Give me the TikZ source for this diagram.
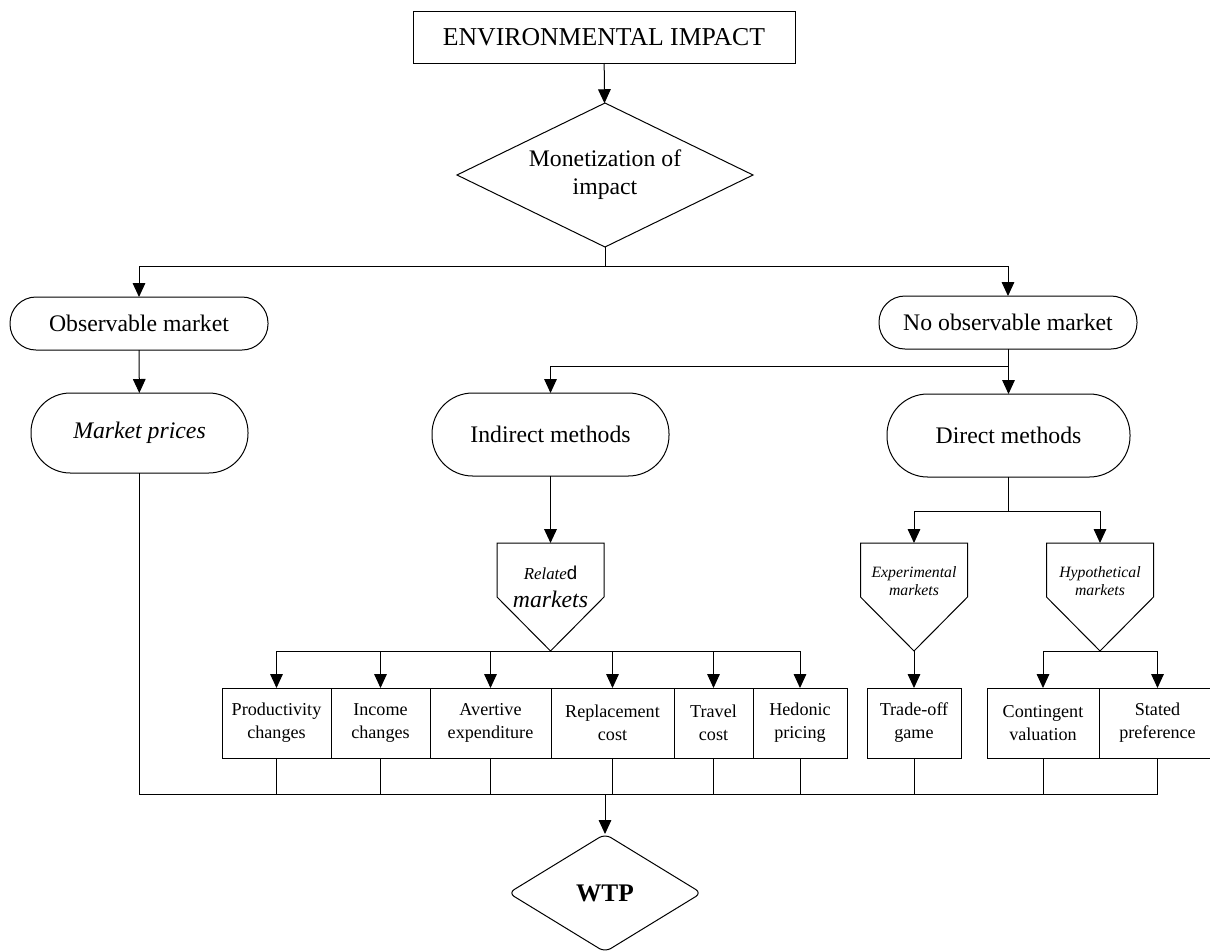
\documentclass[tikz,border=0pt]{standalone}
\usepackage{fontspec}
\setmainfont{Liberation Serif}
\setsansfont{Liberation Sans}
\usetikzlibrary{shapes.geometric,arrows.meta}

\tikzset{every picture/.style={line width=0.75pt}}
\tikzset{
  base/.style={draw, inner sep=0pt, outer sep=0pt, align=center, font=\fontsize{17.8}{21}\selectfont},
  topbox/.style={base, rectangle, minimum width=286.5pt, minimum height=39pt, font=\fontsize{19.3}{23}\selectfont},
  choice/.style={base, diamond, aspect=2},
  term/.style={base, rectangle},
  method/.style={base, rectangle, minimum height=52.5pt, font=\fontsize{13.6}{17.2}\selectfont},
  pent/.style={rectangle, inner sep=0pt, outer sep=0pt, align=center, minimum width=80.25pt, anchor=north, font=\fontsize{11.8}{13.5}\selectfont\itshape},
  arr/.style={-{Triangle[width=9.5pt,length=10.5pt]}},
}

\begin{document}
\begin{tikzpicture}[x=0.75pt,y=0.75pt,yscale=-1,xscale=1]
\useasboundingbox (0,0) rectangle (1210,950);

%Top
\node[topbox] (env) at (604,37) {ENVIRONMENTAL IMPACT};
\node[choice, minimum width=222pt, minimum height=108pt] (mon) at (605,175) {Monetization of\\impact};

%Markets
\node[term, minimum width=193.5pt, minimum height=39.75pt, rounded corners=19.5pt] (obs) at (139,323.5) {Observable market};
\node[term, minimum width=193.5pt, minimum height=39.75pt, rounded corners=19.5pt] (nobs) at (1008,322.5) {No observable market};
\node[term, minimum width=162.75pt, minimum height=60pt, rounded corners=29.5pt, font=\fontsize{17.8}{21}\selectfont\itshape] (mp) at (139.5,433) {Market prices};
\node[term, minimum width=177.75pt, minimum height=62.25pt, rounded corners=30.5pt] (ind) at (550.5,434.5) {Indirect methods};
\node[term, minimum width=182.25pt, minimum height=62.25pt, rounded corners=30.5pt] (dir) at (1008.5,435.5) {Direct methods};

%Pentagons
\node[pent, minimum height=66pt] (rel) at (550.5,543) {{\fontsize{12.6}{15}\selectfont Relate}{\fontsize{14}{15}\selectfont\upshape\sffamily d}\\[7pt]{\fontsize{17.8}{19}\selectfont markets}};
\node[pent, minimum height=57pt] (exp) at (914,543) {Experimental\\markets};
\node[pent, minimum height=57pt] (hyp) at (1100,543) {Hypothetical\\markets};
\draw (rel.north west) -- (rel.north east) -- ++(0,54) -- ++(-53.5,54) coordinate (rel-tip) -- ++(-53.5,-54) -- cycle;
\draw (exp.north west) -- (exp.north east) -- ++(0,54) -- ++(-53.5,54) coordinate (exp-tip) -- ++(-53.5,-54) -- cycle;
\draw (hyp.north west) -- (hyp.north east) -- ++(0,54) -- ++(-53.5,54) coordinate (hyp-tip) -- ++(-53.5,-54) -- cycle;

%Methods
\node[method, minimum width=81.75pt] (prod) at (276.5,723) {Productivity\\changes};
\node[method, minimum width=74.25pt] (inc) at (380.5,723) {Income\\changes};
\node[method, minimum width=90.75pt] (avt) at (490.5,723) {Avertive\\expenditure};
\node[method, minimum width=92.25pt] (rep) at (612.5,723) {Replacement\\cost};
\node[method, minimum width=59.25pt] (trv) at (713.5,723) {Travel\\cost};
\node[method, minimum width=70.5pt] (hed) at (800,723) {Hedonic\\pricing};
\node[method, minimum width=70.5pt] (trd) at (914,723) {Trade-off\\game};
\node[method, minimum width=84pt] (cnt) at (1043,723) {Contingent\\valuation};
\node[method, minimum width=87.75pt] (stp) at (1157.5,723) {Stated\\preference};

%Result
\node[choice, minimum width=144.75pt, minimum height=88.5pt, rounded corners=5pt, font=\fontsize{19}{23}\selectfont\bfseries] (wtp) at (605,893) {WTP};

%Connectors
\coordinate (split1) at (605,266);
\coordinate (split2) at (1008,366);
\coordinate (split3) at (1008.5,511);
\coordinate (bus) at (605,794);

\draw[arr] (env) -- (mon);
\draw (mon.south) -- (split1);
\draw[arr] (split1) -| (obs);
\draw[arr] (split1) -| (nobs);
\draw[arr] (obs) -- (mp);
\draw (nobs.south) -- (split2);
\draw[arr] (split2) -| (ind);
\draw[arr] (split2) -| (dir);
\draw[arr, line width=1.1pt] (ind.south) -- (rel.north);
\draw (dir.south) -- (split3);
\draw[arr] (split3) -| (exp.north);
\draw[arr] (split3) -| (hyp.north);

\foreach \n in {prod,inc,avt,rep,trv,hed}
  \draw[arr] (rel-tip) -| (\n);
\draw[arr] (exp-tip) -- (trd);
\draw[arr] (hyp-tip) -| (cnt);
\draw[arr] (hyp-tip) -| (stp);

\draw (mp.south) |- (stp.south |- bus) -- (stp.south);
\foreach \n in {prod,inc,avt,rep,trv,hed,trd,cnt}
  \draw (\n.south) -- (\n.south |- bus);
\draw[arr] (bus) -- (wtp);

\end{tikzpicture}
\end{document}
